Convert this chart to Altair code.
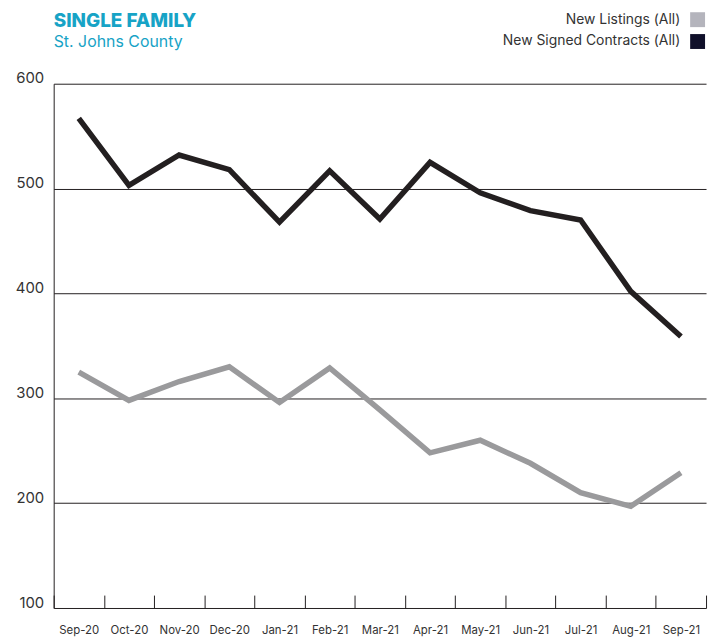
import altair as alt
import pandas as pd

months = ["Sep-20", "Oct-20", "Nov-20", "Dec-20", "Jan-21", "Feb-21", "Mar-21",
          "Apr-21", "May-21", "Jun-21", "Jul-21", "Aug-21", "Sep-21"]
new_listings = [325, 298, 316, 330, 296, 329, 289, 248, 260, 238, 210, 197, 229]
new_contracts = [567, 503, 532, 518, 468, 517, 471, 525, 496, 479, 470, 402, 359]

series_names = ["New Listings (All)", "New Signed Contracts (All)"]
line_colors = ["#9a9a9c", "#231f20"]
swatch_colors = ["#b4b4bc", "#10102a"]

rows = []
for m, v in zip(months, new_listings):
    rows.append({"month": m, "series": series_names[0], "value": v})
for m, v in zip(months, new_contracts):
    rows.append({"month": m, "series": series_names[1], "value": v})
df = pd.DataFrame(rows)

legend_df = pd.DataFrame({"series": series_names, "swatch": swatch_colors})

FONT = "Inter"
W, H = 657, 528

x_enc = alt.X("month:N", sort=months, title=None,
              scale=alt.Scale(paddingInner=0, paddingOuter=0),
              axis=alt.Axis(labelAngle=0, domain=False, grid=False, ticks=True,
                            tickBand="extent", tickSize=13, tickColor="#231f20",
                            tickWidth=1, offset=-13, labelPadding=17,
                            labelFont=FONT, labelFontSize=11.5, labelColor="#333333"))
y_enc = alt.Y("value:Q", title=None,
              scale=alt.Scale(domain=[100, 600], nice=False, zero=False),
              axis=alt.Axis(values=[100, 200, 300, 400, 500, 600], grid=True,
                            gridColor="#231f20", gridWidth=1, domain=True,
                            domainColor="#231f20", domainWidth=1, ticks=False,
                            tickSize=0, labelPadding=10, labelBaseline="alphabetic",
                            labelOffset=-1, labelFont=FONT, labelFontSize=15,
                            labelColor="#333333"))

lines = alt.Chart(df).mark_line(strokeWidth=5.5, strokeJoin="miter").encode(
    x=x_enc,
    y=y_enc,
    stroke=alt.Stroke("series:N", scale=alt.Scale(domain=series_names, range=line_colors),
                      legend=None),
    detail="series:N",
)

# manual legend (symbols to the right of right-aligned labels, as in the reference)
legend_layers = []
legend_rows_y = [-64.5, -42.5]
for i, name in enumerate(series_names):
    base = alt.Chart(legend_df).transform_filter(alt.datum.series == name)
    sq = base.mark_square(size=225, opacity=1).encode(
        x=alt.value(648.5), y=alt.value(legend_rows_y[i]),
        fill=alt.value(swatch_colors[i]),
    )
    tx = base.mark_text(align="right", baseline="middle", font=FONT, fontSize=14,
                        color="#333333").encode(
        x=alt.value(631), y=alt.value(legend_rows_y[i]), text="series:N",
    )
    legend_layers += [sq, tx]

chart = alt.layer(lines, *legend_layers).properties(
    width=W,
    height=H,
    padding={"left": 7, "top": 2, "right": 5, "bottom": 5},
    title=alt.Title(
        "SINGLE FAMILY",
        subtitle="St. Johns County",
        anchor="start",
        frame="group",
        font=FONT,
        fontSize=19,
        fontWeight=800,
        color="#17a3c6",
        subtitleFont=FONT,
        subtitleFontSize=16,
        subtitleColor="#17a3c6",
        subtitlePadding=3,
        offset=-38,
    ),
).configure_view(stroke=None)

chart.save("out.html", embed_options={"renderer": "svg", "actions": False})
